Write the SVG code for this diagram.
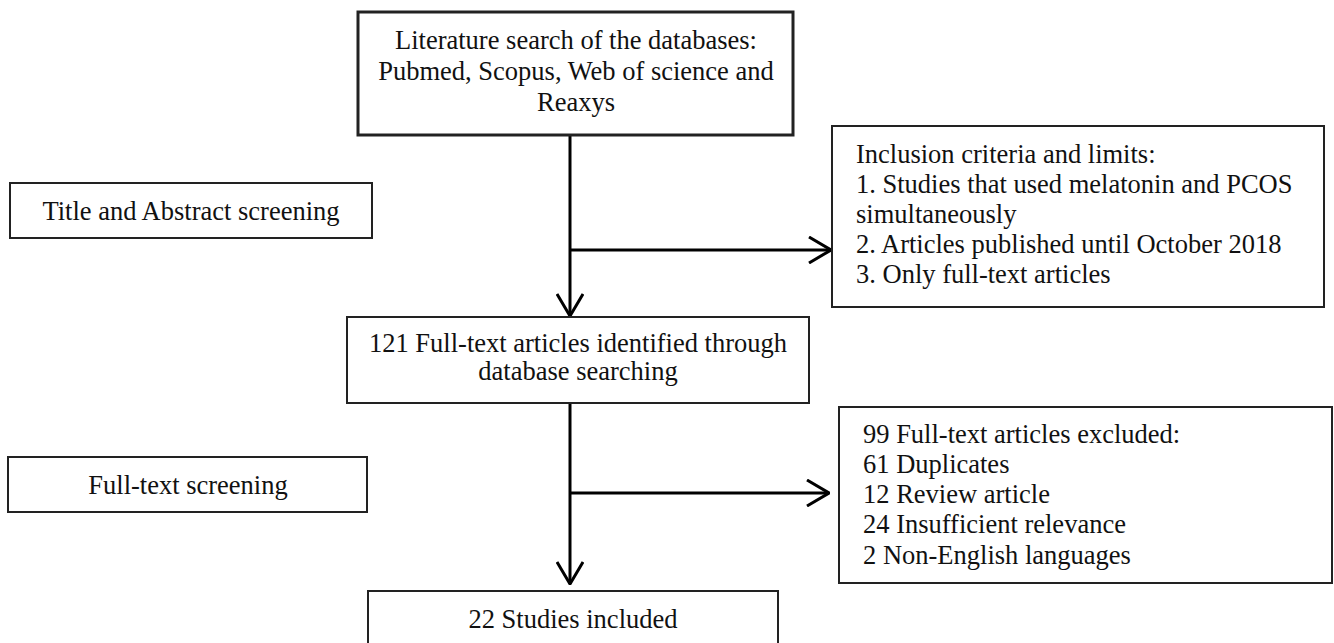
<svg xmlns="http://www.w3.org/2000/svg" width="1334" height="643" viewBox="0 0 1334 643">
  <defs>
    <style>
      .box { fill: #ffffff; stroke: #222222; stroke-width: 2; }
      .thick { stroke-width: 3; }
      .t { font-family: "Liberation Serif", "Times New Roman", serif; font-size: 26.5px; fill: #111111; }
      .c { text-anchor: middle; }
      .conn { fill: none; stroke: #000000; stroke-width: 3; }
    </style>
    <marker id="arr" viewBox="0 0 24 28" refX="23" refY="14" markerWidth="24" markerHeight="28" markerUnits="userSpaceOnUse" orient="auto">
      <path d="M1,1 L23,14 L1,27" fill="none" stroke="#000000" stroke-width="3"/>
    </marker>
  </defs>
  <rect width="1334" height="643" fill="#ffffff"/>

  <g id="connectors">
    <line class="conn" x1="570" y1="135" x2="570" y2="316" marker-end="url(#arr)"/>
    <line class="conn" x1="570" y1="250" x2="831" y2="250" marker-end="url(#arr)"/>
    <line class="conn" x1="570" y1="403" x2="570" y2="584" marker-end="url(#arr)"/>
    <line class="conn" x1="570" y1="493" x2="829" y2="493" marker-end="url(#arr)"/>
  </g>

  <g id="search">
    <rect class="box thick" x="358" y="12" width="435" height="123"/>
    <text class="t c" x="576" y="49">Literature search of the databases:</text>
    <text class="t c" x="576" y="80">Pubmed, Scopus, Web of science and</text>
    <text class="t c" x="576" y="111">Reaxys</text>
  </g>

  <g id="title-abstract">
    <rect class="box" x="10" y="183" width="362" height="55"/>
    <text class="t c" x="191" y="220">Title and Abstract screening</text>
  </g>

  <g id="inclusion">
    <rect class="box" x="832" y="126" width="492" height="181"/>
    <text class="t" x="856" y="163">Inclusion criteria and limits:</text>
    <text class="t" x="856" y="193">1. Studies that used melatonin and PCOS</text>
    <text class="t" x="856" y="223">simultaneously</text>
    <text class="t" x="856" y="253">2. Articles published until October 2018</text>
    <text class="t" x="856" y="283">3. Only full-text articles</text>
  </g>

  <g id="identified">
    <rect class="box" x="347" y="317" width="462" height="86"/>
    <text class="t c" x="578" y="352">121 Full-text articles identified through</text>
    <text class="t c" x="578" y="380">database searching</text>
  </g>

  <g id="fulltext-screening">
    <rect class="box" x="8" y="457" width="359" height="55"/>
    <text class="t c" x="188" y="494">Full-text screening</text>
  </g>

  <g id="excluded">
    <rect class="box" x="839" y="407" width="493" height="176"/>
    <text class="t" x="863" y="443">99 Full-text articles excluded:</text>
    <text class="t" x="863" y="473">61 Duplicates</text>
    <text class="t" x="863" y="503">12 Review article</text>
    <text class="t" x="863" y="533">24 Insufficient relevance</text>
    <text class="t" x="863" y="564">2 Non-English languages</text>
  </g>

  <g id="included">
    <rect class="box" x="368" y="591" width="410" height="60"/>
    <text class="t c" x="573" y="628">22 Studies included</text>
  </g>
</svg>
